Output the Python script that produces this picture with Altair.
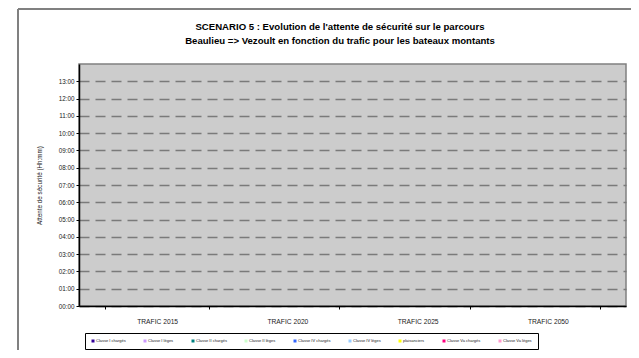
import altair as alt
import pandas as pd

categories = ["TRAFIC 2015", "TRAFIC 2020", "TRAFIC 2025", "TRAFIC 2050"]
series = ["Classe I chargés", "Classe I lèges", "Classe II chargés", "Classe II lèges",
          "Classe IV chargés", "Classe IV lèges", "plaisanciers",
          "Classe Va chargés", "Classe Va lèges"]
colors = ["#330099", "#CC99FF", "#008080", "#CCFFCC", "#3366FF", "#99CCFF",
          "#FFFF00", "#FF0080", "#FF99CC"]
# waiting times (hours) - the chart shows no values
values = {s: [None, None, None, None] for s in series}
y_ticks = list(range(0, 14))
title_lines = ["SCENARIO 5 : Evolution de l'attente de sécurité sur le parcours",
               "Beaulieu => Vezoult en fonction du trafic pour les bateaux montants"]

rows = []
for s in series:
    for c, v in zip(categories, values[s]):
        rows.append({"cat": c, "serie": s, "val": v})
df = pd.DataFrame(rows)

FONT = "Liberation Sans"

bars = alt.Chart(df).mark_bar().encode(
    x=alt.X("cat:N", sort=categories,
            scale=alt.Scale(domain=categories),
            axis=alt.Axis(title=None, labelAngle=0, tickBand="extent", grid=False,
                          labelFontSize=6.7, labelPadding=9, tickSize=3,
                          domainColor="black", domainWidth=1.5, tickColor="black",
                          labelColor="#222", labelFont=FONT)),
    xOffset=alt.XOffset("serie:N", sort=series),
    y=alt.Y("val:Q", scale=alt.Scale(domain=[0, 14], nice=False),
            axis=alt.Axis(title="Attente de sécurité (Hh:mm)", values=y_ticks,
                          labelExpr="(datum.value < 10 ? '0' : '') + datum.value + ':00'",
                          grid=True, gridColor="#7A7A7A", gridDash=[10, 6], gridWidth=1.3,
                          tickSize=3, tickColor="black", domainColor="black", domainWidth=1.5,
                          labelFontSize=6.3, labelColor="#222", labelFont=FONT,
                          titleFontSize=6.3, titleFontWeight="normal", titleColor="#222",
                          titleFont=FONT, titlePadding=16)),
    color=alt.Color("serie:N", sort=series,
                    scale=alt.Scale(domain=series, range=colors),
                    legend=alt.Legend(title=None, orient="none", legendX=6, legendY=269,
                                      direction="horizontal", columns=9,
                                      symbolType="square", symbolSize=9, symbolStrokeWidth=0,
                                      labelFontSize=4, labelOffset=1, columnPadding=17,
                                      labelFont=FONT, labelColor="#222",
                                      strokeColor="black", fillColor="white", padding=6)),
)

one = pd.DataFrame({"a": [0]})
frame_left = alt.Chart(one).mark_rule(color="#808080", strokeWidth=2).encode(
    x=alt.value(-61), y=alt.value(-55), y2=alt.value(300))
frame_top = alt.Chart(one).mark_rule(color="#808080", strokeWidth=2).encode(
    x=alt.value(-61), x2=alt.value(560), y=alt.value(-55))
title1 = alt.Chart(one).mark_text(font=FONT, fontSize=9.6, fontWeight="bold",
                                  color="black", align="center", baseline="middle").encode(
    x=alt.value(261), y=alt.value(-37), text=alt.value(title_lines[0]))
title2 = alt.Chart(one).mark_text(font=FONT, fontSize=9.6, fontWeight="bold",
                                  color="black", align="center", baseline="middle").encode(
    x=alt.value(261), y=alt.value(-23), text=alt.value(title_lines[1]))

chart = alt.layer(frame_left, frame_top, title1, title2, bars).properties(
    width=547, height=242,
    autosize=alt.AutoSizeParams(type="none"),
    padding={"left": 71, "top": 56, "right": 5, "bottom": 44},
).configure(
    background="white",
    view=alt.ViewConfig(fill="#CCCCCC", stroke="#808080", strokeWidth=1.5),
)

chart.save("out.html", embed_options={"renderer": "svg", "actions": False})
